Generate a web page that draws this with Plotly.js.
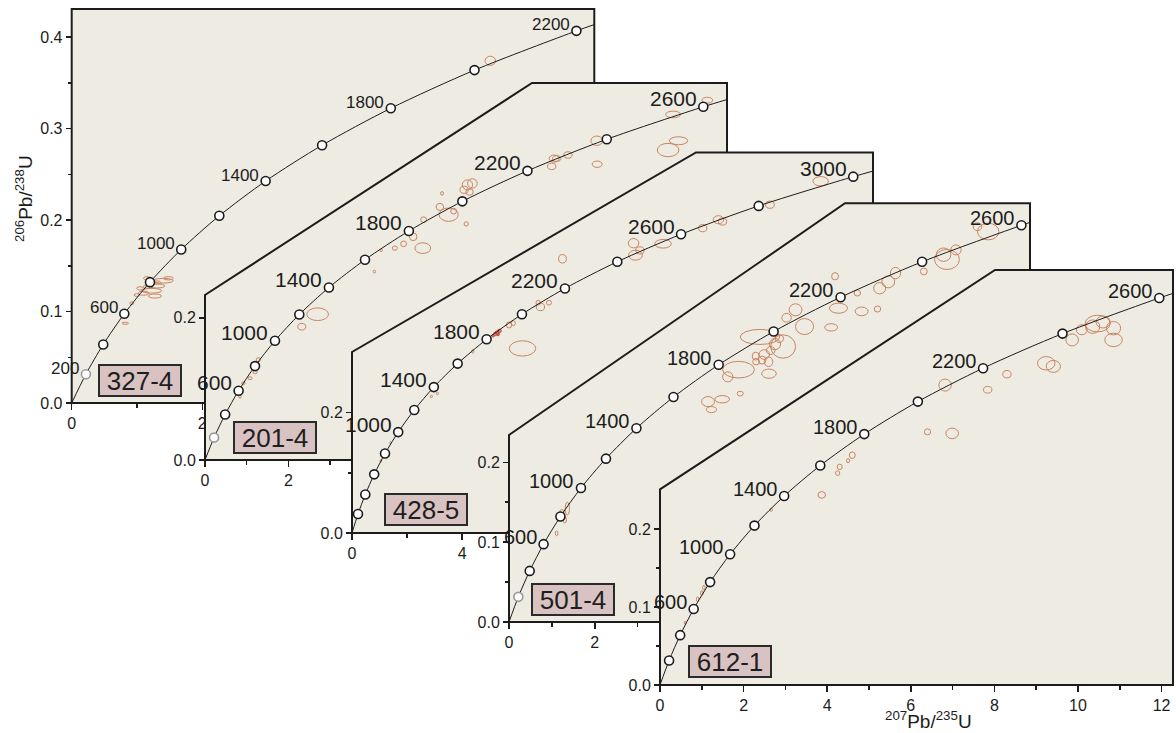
<!DOCTYPE html>
<html>
<head>
<meta charset="utf-8">
<script src="https://cdn.plot.ly/plotly-3.0.1.min.js"></script>
<style>html,body{margin:0;padding:0;background:#fff}#chart{width:1176px;height:733px}</style>
</head>
<body>
<div id="chart"></div>
<script>
// ---- Concordia reference ages (Ma) and ratios ----
const concAges = [200,400,600,800,1000,1200,1400,1600,1800,2000,2200,2400,2600,2800,3000];
const concX = [0.2177,0.4828,0.8056,1.1987,1.6774,2.2603,2.9701,3.8345,4.8869,6.1686,7.7292,9.6298,11.944,14.762,18.194];
const concY = [0.0315,0.0640,0.0975,0.1321,0.1678,0.2046,0.2426,0.2817,0.3221,0.3638,0.4067,0.4511,0.4968,0.5440,0.5926];

const sampleNames = ['327-4','201-4','428-5','501-4','612-1'];
const maxMarkerAge = [2200,2600,3000,2600,2600];
const labelAges1 = [200,600,1000,1400,1800,2200];
const labelAges2 = [600,1000,1400,1800,2200,2600];
const labelAges3 = [1000,1400,1800,2200,2600,3000];
const labelAges4 = [600,1000,1400,1800,2200,2600];
const labelAges5 = [600,1000,1400,1800,2200,2600];
const curveEndX = [8.003,12.51,18.91,12.14,12.27];
const curveEndY = [0.4136,0.5069,0.6019,0.5004,0.5027];

// ---- Analyses (ellipse centre x, y and half-widths) ----
const ell327X = [1.40,1.30,1.225,1.275,1.10,1.045,1.48,1.15,0.995,0.92,0.82,1.30,1.17,6.41];
const ell327Y = [0.1336,0.1279,0.1227,0.1169,0.120,0.1253,0.1363,0.1363,0.118,0.109,0.0871,0.1317,0.1271,0.374];
const ell327RX = [0.153,0.128,0.153,0.10,0.077,0.05,0.077,0.05,0.04,0.03,0.05,0.064,0.077,0.08];
const ell327RY = [0.0026,0.0022,0.0026,0.0022,0.0022,0.0018,0.0018,0.0018,0.0015,0.0015,0.0011,0.0018,0.0018,0.005];

const ell201X = [1.28,1.24,1.20,1.08,0.92,0.84, 2.70,2.32, 4.55,4.76,4.22,4.06,4.99,5.22,5.24,5.68,5.63,5.84,5.96,6.26, 6.29,6.41,6.21,6.34, 8.37,8.70,8.43,8.31,9.40,9.39, 11.10,11.35,11.22,12.04];
const ell201Y = [0.141,0.131,0.124,0.115,0.108,0.089, 0.205,0.1875, 0.298,0.304,0.295,0.265,0.314,0.298,0.338,0.375,0.356,0.345,0.350,0.332, 0.387,0.389,0.380,0.377, 0.424,0.429,0.424,0.413,0.416,0.449, 0.436,0.449,0.486,0.506];
const ell201RX = [0.05,0.06,0.05,0.05,0.04,0.03, 0.26,0.096, 0.06,0.07,0.03,0.03,0.09,0.19,0.07,0.035,0.09,0.23,0.07,0.05, 0.124,0.116,0.10,0.09, 0.12,0.10,0.10,0.10,0.12,0.14, 0.26,0.22,0.18,0.13];
const ell201RY = [0.003,0.003,0.003,0.002,0.002,0.002, 0.0089,0.0047, 0.003,0.004,0.002,0.002,0.0055,0.0075,0.004,0.0025,0.005,0.0094,0.004,0.003, 0.007,0.0066,0.005,0.0047, 0.005,0.0045,0.004,0.0045,0.0045,0.0066, 0.0094,0.0056,0.0047,0.0042];

const ell428X = [1.19,1.05,1.40, 2.88,3.10, 5.70,5.85, 6.19, 4.38, 6.84,7.15,6.76, 7.64, 10.29,10.22,11.29,10.45, 12.73,13.30,13.45, 15.17, 17.01];
const ell428Y = [0.133,0.120,0.150, 0.227,0.232, 0.346,0.349, 0.307, 0.302, 0.376,0.383,0.383, 0.456, 0.462,0.482,0.481,0.470, 0.507,0.521,0.518, 0.546, 0.585];
const ell428RX = [0.03,0.03,0.03, 0.04,0.04, 0.10,0.08, 0.48, 0.04, 0.15,0.09,0.08, 0.14, 0.25,0.19,0.30,0.15, 0.15,0.19,0.15, 0.16, 0.28];
const ell428RY = [0.002,0.002,0.002, 0.002,0.002, 0.005,0.004, 0.0127, 0.003, 0.0063,0.004,0.004, 0.007, 0.0083,0.0078,0.0072,0.006, 0.006,0.0067,0.006, 0.006, 0.0078];
const dense428X = [5.27,5.20,5.35,5.30,5.12];
const dense428Y = [0.333,0.331,0.336,0.330,0.328];
const dense428RX = [0.08,0.06,0.07,0.05,0.05];
const dense428RY = [0.003,0.003,0.003,0.002,0.002];

const ell501X = [5.85,6.39,6.89,6.68,6.47, 5.95,6.10,6.20,5.90,6.05,6.30,5.75, 5.35,5.10,6.06,5.76,5.39, 4.64,4.97,4.72, 7.51,8.22,8.59,7.68,7.60,8.12, 8.64,8.84,9.01,9.67, 10.13,10.21,10.42,11.17,10.92, 1.36,1.23,1.11,1.30];
const ell501Y = [0.357,0.345,0.370,0.391,0.381, 0.335,0.340,0.348,0.328,0.326,0.355,0.333, 0.316,0.307,0.311,0.326,0.286, 0.276,0.279,0.266, 0.369,0.389,0.392,0.393,0.433,0.412, 0.418,0.426,0.437,0.439, 0.460,0.454,0.466,0.489,0.495, 0.142,0.136,0.111,0.128];
const ell501RX = [0.46,0.29,0.21,0.15,0.11, 0.12,0.10,0.13,0.09,0.10,0.10,0.08, 0.37,0.12,0.17,0.08,0.07, 0.15,0.17,0.12, 0.15,0.15,0.075,0.21,0.08,0.075, 0.14,0.15,0.12,0.08, 0.17,0.29,0.12,0.25,0.10, 0.05,0.05,0.03,0.04];
const ell501RY = [0.0094,0.0146,0.010,0.0075,0.0055, 0.006,0.005,0.007,0.005,0.006,0.005,0.005, 0.0104,0.0063,0.0058,0.004,0.003, 0.0063,0.0046,0.0038, 0.0046,0.0054,0.0038,0.0063,0.0046,0.0038, 0.0071,0.0075,0.0071,0.0042, 0.0084,0.0125,0.0063,0.0104,0.005, 0.008,0.005,0.003,0.004];

const ell612X = [10.47,10.60,10.35,10.85,10.85,10.09,9.86,9.24,9.41,8.30,7.84,6.82,6.40,6.99,4.60,4.30,4.25,4.50,3.87,2.66,0.90,1.00,1.05,0.60];
const ell612Y = [0.464,0.466,0.460,0.458,0.443,0.456,0.443,0.413,0.409,0.399,0.379,0.385,0.325,0.323,0.295,0.280,0.272,0.288,0.244,0.225,0.110,0.118,0.125,0.080];
const ell612RX = [0.30,0.17,0.17,0.17,0.21,0.13,0.15,0.21,0.17,0.10,0.10,0.15,0.075,0.15,0.07,0.06,0.05,0.04,0.09,0.03,0.03,0.03,0.03,0.02];
const ell612RY = [0.0107,0.0077,0.0086,0.0086,0.0086,0.0064,0.0077,0.0086,0.0077,0.0047,0.0043,0.0077,0.0039,0.0068,0.0043,0.0035,0.003,0.0025,0.0043,0.002,0.003,0.003,0.003,0.002];

// ---- Tick values ----
const xMajor = [[0,2,4,6,8],[0,2,4,6,8,10,12],[0,4,8,12,16],[0,2,4,6,8,10,12],[0,2,4,6,8,10,12]];
const xMinor = [[1,3,5,7],[1,3,5,7,9,11],[2,6,10,14,18],[1,3,5,7,9,11],[1,3,5,7,9,11]];
const yMajor = [[0,0.1,0.2,0.3,0.4],[0,0.2],[0,0.2],[0,0.1,0.2],[0,0.1,0.2]];
const yMinor = [[0.05,0.15,0.25,0.35],[0.1],[0.1],[0.05,0.15],[0.05,0.15]];

// ---- Layout geometry (pixels) ----
const W = 1176, H = 733, PAD = 3;
const panels = [
  {left:71.7, bottom:403, sx:65.3,  sy:915,   right:594.3, top:9,     cutY:null,  cutX:null, ageFont:17, tickFont:16},
  {left:205,  bottom:460, sx:41.72, sy:711,   right:727,   top:83,    cutY:295,   cutX:532,  ageFont:21, tickFont:16},
  {left:352,  bottom:533, sx:27.55, sy:601.3, right:873,   top:152.5, cutY:352,   cutX:696,  ageFont:21, tickFont:16},
  {left:509,  bottom:622, sx:42.9,  sy:798.5, right:1030,  top:203.3, cutY:435,   cutX:845,  ageFont:20, tickFont:16},
  {left:660,  bottom:685, sx:41.8,  sy:779,   right:1173,  top:270,   cutY:489.3, cutX:995,  ageFont:20, tickFont:16}
];
const labelBoxes = [[140,380.5],[274.5,437.5],[426,509.5],[573,599],[730,661]];
const ellipseSets = [
  [ell327X,ell327Y,ell327RX,ell327RY],
  [ell201X,ell201Y,ell201RX,ell201RY],
  [ell428X,ell428Y,ell428RX,ell428RY],
  [ell501X,ell501Y,ell501RX,ell501RY],
  [ell612X,ell612Y,ell612RX,ell612RY]
];
const labelAgeSets = [labelAges1,labelAges2,labelAges3,labelAges4,labelAges5];
const grayFirst = [true,true,false,true,false];

const FONT = 'Liberation Sans, Arial, Helvetica, sans-serif';
const BG = '#EEECE2';
const INK = '#1c1c1c';
const ELL = '#C98462';

const traces = [];
const shapes = [];
const annotations = [];
const layout = {
  width: W, height: H,
  margin: {l:0, r:0, t:0, b:0},
  paper_bgcolor: '#ffffff',
  plot_bgcolor: 'rgba(0,0,0,0)',
  showlegend: false,
  font: {family: FONT, color: INK},
  shapes: shapes,
  annotations: annotations
};

panels.forEach((p, i) => {
  const n = i === 0 ? '' : String(i + 1);
  const xa = 'x' + n, ya = 'y' + n;
  const lp = p.left - PAD, rp = Math.min(p.right + PAD, W);
  const bp = Math.min(p.bottom + PAD, H), tp = Math.max(p.top - PAD, 0);

  layout['xaxis' + n] = {
    domain: [lp / W, rp / W],
    range: [(lp - p.left) / p.sx, (rp - p.left) / p.sx],
    anchor: 'free', position: 1 - p.bottom / H,
    showline: false, showgrid: false, zeroline: false,
    ticks: 'outside', ticklen: 6, tickwidth: 1.5, tickcolor: INK,
    tickmode: 'array', tickvals: xMajor[i], ticktext: xMajor[i].map(String),
    tickfont: {family: FONT, size: p.tickFont, color: INK},
    minor: {tickmode: 'array', tickvals: xMinor[i], ticks: 'outside', ticklen: 4, tickwidth: 1.5, tickcolor: INK, showgrid: false},
    fixedrange: true
  };
  layout['yaxis' + n] = {
    domain: [1 - bp / H, 1 - tp / H],
    range: [(p.bottom - bp) / p.sy, (p.bottom - tp) / p.sy],
    anchor: 'free', position: p.left / W,
    showline: false, showgrid: false, zeroline: false,
    ticks: 'outside', ticklen: 6, tickwidth: 1.5, tickcolor: INK,
    tickmode: 'array', tickvals: yMajor[i], ticktext: yMajor[i].map(v => v.toFixed(1)),
    tickfont: {family: FONT, size: p.tickFont, color: INK},
    minor: {tickmode: 'array', tickvals: yMinor[i], ticks: 'outside', ticklen: 4, tickwidth: 1.5, tickcolor: INK, showgrid: false},
    fixedrange: true
  };

  // panel frame (cut corner on the stacked panels)
  const xt = (p.right - p.left) / p.sx, yt = (p.bottom - p.top) / p.sy;
  let path;
  if (p.cutY === null) {
    path = `M0,0L0,${yt}L${xt},${yt}L${xt},0Z`;
  } else {
    const yc = (p.bottom - p.cutY) / p.sy, xc = (p.cutX - p.left) / p.sx;
    path = `M0,0L0,${yc}L${xc},${yt}L${xt},${yt}L${xt},0Z`;
  }
  shapes.push({type: 'path', path: path, xref: xa, yref: ya, layer: 'below',
               fillcolor: BG, line: {color: INK, width: 2}});

  // data ellipses
  const [ex, ey, erx, ery] = ellipseSets[i];
  ex.forEach((cx, k) => {
    shapes.push({type: 'circle', xref: xa, yref: ya, layer: 'below',
      x0: cx - erx[k], x1: cx + erx[k], y0: ey[k] - ery[k], y1: ey[k] + ery[k],
      line: {color: ELL, width: 1}, fillcolor: 'rgba(0,0,0,0)'});
  });
  if (i === 2) {
    dense428X.forEach((cx, k) => {
      shapes.push({type: 'circle', xref: xa, yref: ya, layer: 'below',
        x0: cx - dense428RX[k], x1: cx + dense428RX[k], y0: dense428Y[k] - dense428RY[k], y1: dense428Y[k] + dense428RY[k],
        line: {color: '#C0503A', width: 1}, fillcolor: 'rgba(200,80,60,0.55)'});
    });
  }

  // concordia curve
  const nM = concAges.filter(a => a <= maxMarkerAge[i]).length;
  traces.push({
    type: 'scatter', mode: 'lines', xaxis: xa, yaxis: ya, hoverinfo: 'skip',
    x: [0].concat(concX.slice(0, nM), [curveEndX[i]]),
    y: [0].concat(concY.slice(0, nM), [curveEndY[i]]),
    line: {color: INK, width: 1, shape: 'spline', smoothing: 0.8}
  });
  // age markers
  const ages = concAges.slice(0, nM);
  traces.push({
    type: 'scatter', mode: 'markers', xaxis: xa, yaxis: ya, hoverinfo: 'skip',
    x: concX.slice(0, nM), y: concY.slice(0, nM),
    marker: {size: 9, color: '#ffffff',
             line: {width: 1.6, color: ages.map((a, k) => (k === 0 && grayFirst[i]) ? '#9a9a9a' : INK)}},
    cliponaxis: false
  });
  // age labels, up-left of their markers
  ages.forEach((a, k) => {
    if (!labelAgeSets[i].includes(a)) return;
    annotations.push({
      xref: xa, yref: ya, x: concX[k], y: concY[k],
      text: String(a), showarrow: false,
      xanchor: 'right', yanchor: 'middle',
      xshift: -4.5, yshift: Math.round(p.ageFont * 0.36),
      font: {family: FONT, size: p.ageFont, color: INK}
    });
  });

  // sample label box
  annotations.push({
    xref: 'paper', yref: 'paper', x: labelBoxes[i][0] / W, y: 1 - labelBoxes[i][1] / H,
    xanchor: 'center', yanchor: 'middle', showarrow: false,
    text: sampleNames[i], width: 80, height: 29, align: 'center', valign: 'middle',
    bgcolor: '#D9C3C2', bordercolor: '#2a2a2a', borderwidth: 2, borderpad: 0,
    font: {family: FONT, size: 26, color: '#1e1e1e'}
  });
});

// axis titles
annotations.push({
  xref: 'paper', yref: 'paper', x: 24 / W, y: 1 - 198 / H, xanchor: 'center', yanchor: 'middle',
  showarrow: false, textangle: -90, text: '<sup>206</sup>Pb/<sup>238</sup>U',
  font: {family: FONT, size: 19, color: INK}
});
annotations.push({
  xref: 'paper', yref: 'paper', x: 928 / W, y: 1 - 720 / H, xanchor: 'center', yanchor: 'middle',
  showarrow: false, text: '<sup>207</sup>Pb/<sup>235</sup>U',
  font: {family: FONT, size: 19, color: INK}
});

Plotly.newPlot('chart', traces, layout, {staticPlot: true, displayModeBar: false});
</script>
</body>
</html>
